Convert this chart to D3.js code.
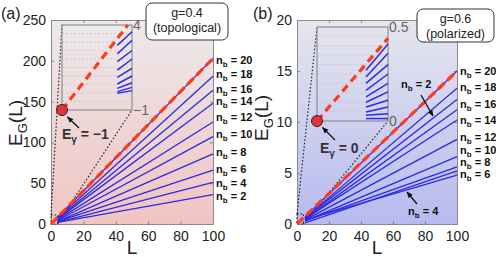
<!DOCTYPE html>
<html lang="en">
<head>
<meta charset="utf-8">
<title>E_G(L) vs L</title>
<script src="https://d3js.org/d3.v7.min.js"></script>
<style>
  body { margin: 0; background: #fff; }
  svg { font-family: "Liberation Sans", Arial, Helvetica, sans-serif; display: block; }
  .tick-label { font-size: 14px; fill: #222; }
  .nb { font-size: 11px; font-weight: bold; fill: #111; }
</style>
</head>
<body>
<svg id="chart" width="496" height="257"></svg>
<script>
// ---- data ----
const nbValues = [2, 4, 6, 8, 10, 12, 14, 16, 18, 20];

// panel (a): g = 0.4, lines start at L=4
const startA = [2, 2, 3, 3, 4, 5, 6, 6, 7, 8];
const endA   = [36, 51, 66, 86, 107, 125, 148, 164, 181, 203];
const redA   = [[0, 0], [100, 203]];
const labelA = [34, 50, 66, 87, 109, 130, 149.5, 164, 182.6, 200];
const yTicksA = [0, 50, 100, 150, 200, 250];

// panel (b): g = 0.6, lines start at L=5
const startB = [0.6, 0.1, 0.4, 0.3, 0.3, 0.4, 0.5, 0.5, 0.6, 0.7];
const endB   = [12.2, 5.2, 4.8, 5.6, 6.6, 8.3, 10.2, 11.2, 13.3, 15.0];
const redB   = [[0, 0], [100, 15]];
const labelB = [null, null, 4.84, 6.0, 7.19, 8.46, 10.1, 11.7, 13.35, 14.9];
const yTicksB = [0, 5, 10, 15, 20];

const xTicks = [0, 20, 40, 60, 80, 100];

// insets: x in [0,1], short blue lines from x0 to 1
const insetLeftA  = [2.8, 2.3, 1.85, 1.35, 0.92, 0.53, 0.27, 0.08, -0.02];
const insetRightA = [3.6, 3.1, 2.5, 2.0, 1.45, 1.0, 0.6, 0.33, 0.14];
const insetRedA   = [[0, -1], [0.94, 4]];
const insetGridA  = [-0.5, 0, 0.5, 1, 1.5, 2, 2.5, 3, 3.5];

const insetLeftB  = [0.27, 0.234, 0.2, 0.163, 0.128, 0.10, 0.074, 0.048, 0.03, 0.013];
const insetRightB = [0.41, 0.36, 0.30, 0.25, 0.20, 0.155, 0.11, 0.074, 0.039, 0.013];
const insetRedB   = [[0, 0], [1, 0.44]];
const insetGridB  = [0.05, 0.1, 0.15, 0.2, 0.25, 0.3, 0.35, 0.4, 0.45];

const svg = d3.select("#chart");
const defs = svg.append("defs");

defs.append("marker")
  .attr("id", "arrow")
  .attr("viewBox", "0 0 10 10")
  .attr("refX", 9).attr("refY", 5)
  .attr("markerWidth", 5).attr("markerHeight", 5)
  .attr("orient", "auto")
  .append("path").attr("d", "M0,1 L10,5 L0,9 z").attr("fill", "#111");

function gradient(id, top, bottom) {
  const g = defs.append("linearGradient").attr("id", id)
    .attr("x1", 0).attr("y1", 0).attr("x2", 0).attr("y2", 1);
  g.append("stop").attr("offset", "0%").attr("stop-color", top);
  g.append("stop").attr("offset", "100%").attr("stop-color", bottom);
}
gradient("bgA", "#ece9ec", "#f1c4c1");
gradient("bgB", "#e6e6ee", "#b6baef");

function nbLabel(sel, x, y, n) {
  const t = sel.append("text").attr("class", "nb").attr("x", x).attr("y", y).attr("dy", "0.3em");
  t.append("tspan").text("n");
  t.append("tspan").attr("font-size", 8).attr("dy", 3).text("b");
  t.append("tspan").attr("dy", -3).text(" = " + n);
  return t;
}

function panel(cfg) {
  const x = d3.scaleLinear().domain([0, 100]).range(cfg.xr);
  const y = d3.scaleLinear().domain([0, cfg.ymax]).range([224, 20]);
  const g = svg.append("g");

  // background
  g.append("rect")
    .attr("x", x(0)).attr("y", y(cfg.ymax))
    .attr("width", x(100) - x(0)).attr("height", y(0) - y(cfg.ymax))
    .attr("fill", "url(#" + cfg.bg + ")");

  // axes with inward ticks
  const axL = g.append("g").attr("transform", `translate(${x(0)},0)`)
    .call(d3.axisLeft(y).tickValues(cfg.yTicks).tickSize(-3).tickPadding(5));
  const axB = g.append("g").attr("transform", `translate(0,${y(0)})`)
    .call(d3.axisBottom(x).tickValues(xTicks).tickSize(-3).tickPadding(4));
  const axR = g.append("g").attr("transform", `translate(${x(100)},0)`)
    .call(d3.axisRight(y).tickValues(cfg.yTicks).tickSize(-3).tickFormat(""));
  const axT = g.append("g").attr("transform", `translate(0,${y(cfg.ymax)})`)
    .call(d3.axisTop(x).tickValues(xTicks).tickSize(-3).tickFormat(""));
  [axL, axB, axR, axT].forEach(a => {
    a.select(".domain").attr("stroke", "#8a8a8a");
    a.selectAll(".tick line").attr("stroke", "#8a8a8a");
    a.selectAll("text").attr("class", "tick-label").attr("font-size", null).attr("font-family", null);
  });
  axB.selectAll("text").attr("dy", "0.9em");

  // zoom box at origin and dotted guide lines
  const bx = cfg.zoomBox;
  const dotted = { stroke: "#222", "stroke-width": 1.2, "stroke-dasharray": "1.5,2", fill: "none" };
  const box = g.append("rect")
    .attr("x", x(0)).attr("y", y(bx[1]))
    .attr("width", x(bx[0]) - x(0)).attr("height", y(0) - y(bx[1]));
  Object.entries(dotted).forEach(([k, v]) => box.attr(k, v));

  const ins = cfg.inset;
  const ix = d3.scaleLinear().domain([0, 1]).range([ins.x0, ins.x1]);
  const iy = d3.scaleLinear().domain(ins.domain).range([ins.y1, ins.y0]);

  [[[x(0), y(bx[1])], [ix(0), iy(ins.domain[1])]],
   [[x(bx[0]), y(0)], [ix(1), iy(ins.domain[0])]]].forEach(p => {
    const l = g.append("line")
      .attr("x1", p[0][0]).attr("y1", p[0][1]).attr("x2", p[1][0]).attr("y2", p[1][1]);
    Object.entries(dotted).forEach(([k, v]) => l.attr(k, v));
  });

  // main blue lines
  const line = d3.line().x(d => x(d[0])).y(d => y(d[1]));
  g.selectAll(".bl").data(nbValues).join("path")
    .attr("d", (d, i) => line([[cfg.lstart, cfg.start[i]], [100, cfg.end[i]]]))
    .attr("fill", "none").attr("stroke", "#2b2be3").attr("stroke-width", 1.3);

  g.append("path").attr("d", line(cfg.red))
    .attr("fill", "none").attr("stroke", "#ff3a1c")
    .attr("stroke-width", 3.2).attr("stroke-dasharray", "9,4");

  // right-hand n_b labels
  nbValues.forEach((n, i) => {
    if (cfg.labels[i] != null) nbLabel(g, x(100) + 3, y(cfg.labels[i]), n);
  });

  // inset
  const ig = g.append("g");
  ig.selectAll(".grid").data(ins.grid).join("line")
    .attr("x1", ix(0)).attr("x2", ix(1))
    .attr("y1", d => iy(d)).attr("y2", d => iy(d))
    .attr("stroke", "#c8c8c8").attr("stroke-width", 0.8).attr("stroke-dasharray", "2,2");
  ig.append("rect")
    .attr("x", ix(0)).attr("y", iy(ins.domain[1]))
    .attr("width", ix(1) - ix(0)).attr("height", iy(ins.domain[0]) - iy(ins.domain[1]))
    .attr("fill", "none").attr("stroke", "#8f8f8f").attr("stroke-width", 1.2);
  ig.selectAll(".ib").data(ins.left).join("line")
    .attr("x1", ix(ins.lx)).attr("x2", ix(1))
    .attr("y1", d => iy(d)).attr("y2", (d, i) => iy(ins.right[i]))
    .attr("stroke", "#2b2be3").attr("stroke-width", 1.5);
  const iline = d3.line().x(d => ix(d[0])).y(d => iy(d[1]));
  ig.append("path").attr("d", iline(ins.red))
    .attr("fill", "none").attr("stroke", "#ff3a1c")
    .attr("stroke-width", 3.2).attr("stroke-dasharray", "8,5");
  ig.append("circle")
    .attr("cx", ix(ins.red[0][0])).attr("cy", iy(ins.red[0][1])).attr("r", 5.5)
    .attr("fill", "#e0353a").attr("stroke", "#3a1a1a").attr("stroke-width", 1);
  ig.selectAll(".it").data(ins.ticks).join("text")
    .attr("class", "tick-label")
    .attr("x", ix(1) + 1).attr("y", d => iy(d.v)).attr("dy", "0.35em")
    .style("fill", "#666")
    .text(d => d.t);

  // E_gamma label with arrow
  const et = g.append("text").attr("x", ins.eLab[0]).attr("y", ins.eLab[1])
    .attr("font-size", 14).attr("font-weight", "bold").attr("fill", "#333");
  et.append("tspan").text("E");
  et.append("tspan").attr("font-size", 10).attr("dy", 4).text("\u03b3");
  et.append("tspan").attr("dy", -4).text(" = " + ins.eVal);
  g.append("line")
    .attr("x1", ins.eArrow[0]).attr("y1", ins.eArrow[1])
    .attr("x2", ins.eArrow[2]).attr("y2", ins.eArrow[3])
    .attr("stroke", "#111").attr("stroke-width", 1.3).attr("marker-end", "url(#arrow)");

  // axis titles
  g.append("text").attr("x", (x(0) + x(100)) / 2).attr("y", 254)
    .attr("text-anchor", "middle").attr("font-size", 19).attr("fill", "#222").text("L");
  const yl = g.append("text")
    .attr("transform", `translate(${cfg.yTitle[0]},${cfg.yTitle[1]}) rotate(-90)`)
    .attr("font-size", 19).attr("fill", "#222");
  yl.append("tspan").text("E");
  yl.append("tspan").attr("font-size", 13).attr("dy", 5).text("G");
  yl.append("tspan").attr("dy", -5).text("(L)");

  // panel letter
  g.append("text").attr("x", cfg.letter[0]).attr("y", cfg.letter[1])
    .attr("font-size", 16).attr("fill", "#222").text(cfg.name);

  // legend box
  const lb = cfg.legend;
  g.append("rect").attr("x", lb.x).attr("y", lb.y).attr("width", lb.w).attr("height", lb.h)
    .attr("rx", 6).attr("fill", "#fff").attr("stroke", "#333").attr("stroke-width", 1);
  lb.lines.forEach((s, i) => {
    g.append("text").attr("x", lb.x + lb.w / 2).attr("y", lb.y + 14 + i * 15)
      .attr("text-anchor", "middle").attr("font-size", 12.5).attr("fill", "#222").text(s);
  });

  return { g, x, y };
}

panel({
  name: "(a)", letter: [1, 19], bg: "bgA", xr: [51, 213], ymax: 250, yTicks: yTicksA,
  lstart: 4, start: startA, end: endA, red: redA, labels: labelA,
  zoomBox: [4, 11], yTitle: [22, 146],
  inset: {
    x0: 62, x1: 132, y0: 25, y1: 110, domain: [-1, 4], lx: 0.79,
    left: insetLeftA, right: insetRightA, red: insetRedA, grid: insetGridA,
    ticks: [{ v: 4, t: "4" }, { v: -1, t: "\u22121" }],
    eLab: [62, 139], eVal: "\u22121", eArrow: [79, 128, 67.5, 117]
  },
  legend: { x: 146, y: 3, w: 82, h: 37, lines: ["g=0.4", "(topological)"] }
});

const pb = panel({
  name: "(b)", letter: [253, 19], bg: "bgB", xr: [297, 457], ymax: 20, yTicks: yTicksB,
  lstart: 5, start: startB, end: endB, red: redB, labels: labelB,
  zoomBox: [4, 1], yTitle: [268, 141],
  inset: {
    x0: 317, x1: 388, y0: 27, y1: 121, domain: [0, 0.5], lx: 0.69,
    left: insetLeftB, right: insetRightB, red: insetRedB, grid: insetGridB,
    ticks: [{ v: 0.5, t: "0.5" }, { v: 0, t: "0" }],
    eLab: [320, 153], eVal: "0", eArrow: [335, 140, 322.5, 127.5]
  },
  legend: { x: 417, y: 9, w: 77, h: 33, lines: ["g=0.6", "(polarized)"] }
});

// n_b = 2 and n_b = 4 call-outs in panel (b)
nbLabel(pb.g, 401, 85, 2);
pb.g.append("line").attr("x1", 421).attr("y1", 95).attr("x2", 433).attr("y2", 116)
  .attr("stroke", "#111").attr("stroke-width", 1.3).attr("marker-end", "url(#arrow)");
nbLabel(pb.g, 408, 212, 4);
pb.g.append("line").attr("x1", 417).attr("y1", 204).attr("x2", 407).attr("y2", 192)
  .attr("stroke", "#111").attr("stroke-width", 1.3).attr("marker-end", "url(#arrow)");
</script>
</body>
</html>
